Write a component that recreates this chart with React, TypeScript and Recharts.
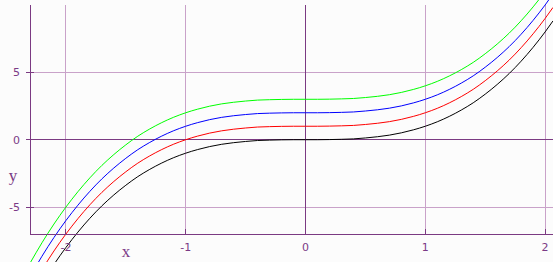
import { LineChart, Line, XAxis, YAxis, CartesianGrid, ReferenceLine, Label } from "recharts";

// x positions the curves were read at
const X_VALUES = [
  -2.3, -2.2, -2.1, -2.0, -1.9, -1.8, -1.7, -1.6, -1.5, -1.4, -1.3, -1.2, -1.1, -1.0,
  -0.9, -0.8, -0.7, -0.6, -0.5, -0.4, -0.3, -0.2, -0.1, 0, 0.1, 0.2, 0.3, 0.4, 0.5,
  0.6, 0.7, 0.8, 0.9, 1.0, 1.1, 1.2, 1.3, 1.4, 1.5, 1.6, 1.7, 1.8, 1.9, 2.0, 2.066,
];

const BLACK = [
  -12.17, -10.65, -9.26, -8.0, -6.86, -5.83, -4.91, -4.1, -3.38, -2.74, -2.2, -1.73, -1.33, -1.0,
  -0.73, -0.51, -0.34, -0.22, -0.13, -0.06, -0.03, -0.01, 0, 0, 0, 0.01, 0.03, 0.06, 0.13,
  0.22, 0.34, 0.51, 0.73, 1.0, 1.33, 1.73, 2.2, 2.74, 3.38, 4.1, 4.91, 5.83, 6.86, 8.0, 8.82,
];
const RED = [
  -11.17, -9.65, -8.26, -7.0, -5.86, -4.83, -3.91, -3.1, -2.38, -1.74, -1.2, -0.73, -0.33, 0.0,
  0.27, 0.49, 0.66, 0.78, 0.87, 0.94, 0.97, 0.99, 1, 1, 1, 1.01, 1.03, 1.06, 1.13,
  1.22, 1.34, 1.51, 1.73, 2.0, 2.33, 2.73, 3.2, 3.74, 4.38, 5.1, 5.91, 6.83, 7.86, 9.0, 9.82,
];
const BLUE = [
  -10.17, -8.65, -7.26, -6.0, -4.86, -3.83, -2.91, -2.1, -1.38, -0.74, -0.2, 0.27, 0.67, 1.0,
  1.27, 1.49, 1.66, 1.78, 1.87, 1.94, 1.97, 1.99, 2, 2, 2, 2.01, 2.03, 2.06, 2.13,
  2.22, 2.34, 2.51, 2.73, 3.0, 3.33, 3.73, 4.2, 4.74, 5.38, 6.1, 6.91, 7.83, 8.86, 10.0, 10.82,
];
const GREEN = [
  -9.17, -7.65, -6.26, -5.0, -3.86, -2.83, -1.91, -1.1, -0.38, 0.26, 0.8, 1.27, 1.67, 2.0,
  2.27, 2.49, 2.66, 2.78, 2.87, 2.94, 2.97, 2.99, 3, 3, 3, 3.01, 3.03, 3.06, 3.13,
  3.22, 3.34, 3.51, 3.73, 4.0, 4.33, 4.73, 5.2, 5.74, 6.38, 7.1, 7.91, 8.83, 9.86, 11.0, 11.82,
];

const X_TICKS = [-2, -1, 0, 1, 2];
const Y_TICKS = [-5, 0, 5];

const SERIES = [
  { key: "black", color: "#000000" },
  { key: "red", color: "#ff0000" },
  { key: "blue", color: "#0000ff" },
  { key: "green", color: "#00ff00" },
];

const data = X_VALUES.map((x, i) => ({
  x,
  black: BLACK[i],
  red: RED[i],
  blue: BLUE[i],
  green: GREEN[i],
}));

const AXIS = "#7b3a82";
const GRID = "#c9a2c9";
const TEXT = "#7b3a86";

function YTick(props: any) {
  const { x, y, payload } = props;
  return (
    <g>
      <line x1={x - 4} x2={x + 4} y1={y} y2={y} stroke={AXIS} shapeRendering="crispEdges" />
      <text x={x - 10} y={y + 4} textAnchor="end" fontSize={11} fill={TEXT} fontFamily="DejaVu Sans">
        {payload.value}
      </text>
    </g>
  );
}

function XTick(props: any) {
  const { x, y, payload } = props;
  return (
    <g>
      <line x1={x} x2={x} y1={y - 5} y2={y} stroke={AXIS} shapeRendering="crispEdges" />
      <text x={x} y={y + 17} textAnchor="middle" fontSize={11} fill={TEXT} fontFamily="DejaVu Sans">
        {payload.value}
      </text>
    </g>
  );
}

export default function App() {
  return (
    <div style={{ position: "absolute", left: 0, top: 0, width: 553, height: 262, background: "#fcfcfc" }}>
      {/* curves run past the frame in the original, so drop the plot clip */}
      <style>{`.recharts-wrapper g, .recharts-wrapper path { clip-path: none !important; }
.recharts-cartesian-grid line, .recharts-reference-line line, .recharts-cartesian-axis-line { shape-rendering: crispEdges; }`}</style>
      <LineChart width={553} height={262} data={data} margin={{ top: 5, right: 0, bottom: 0, left: 0 }}>
        <CartesianGrid
          stroke={GRID}
          strokeWidth={1}
          horizontalValues={Y_TICKS}
          verticalValues={X_TICKS}
        />
        <XAxis
          dataKey="x"
          type="number"
          domain={[-2.3, 2.066]}
          allowDataOverflow
          ticks={X_TICKS}
          height={28}
          tickSize={0}
          tickMargin={0}
          tick={<XTick />}
          axisLine={{ stroke: AXIS }}
          tickLine={false}
        >
          <Label
            content={(p: any) => (
              <text x={p.viewBox.x + 96} y={p.viewBox.y + 23} textAnchor="middle" fontSize={17} fill={TEXT} fontFamily="Liberation Serif">
                x
              </text>
            )}
          />
        </XAxis>
        <YAxis
          type="number"
          domain={[-7, 10]}
          allowDataOverflow
          ticks={Y_TICKS}
          width={30}
          tickSize={0}
          tickMargin={0}
          tick={<YTick />}
          axisLine={{ stroke: AXIS }}
          tickLine={false}
        >
          <Label
            content={(p: any) => (
              <text x={13} y={p.viewBox.y + 176} textAnchor="middle" fontSize={17} fill={TEXT} fontFamily="Liberation Serif">
                y
              </text>
            )}
          />
        </YAxis>
        <ReferenceLine x={0} stroke={AXIS} />
        <ReferenceLine y={0} stroke={AXIS} />
        {SERIES.map((s) => (
          <Line
            key={s.key}
            type="monotone"
            dataKey={s.key}
            stroke={s.color}
            strokeWidth={1}
            dot={false}
            activeDot={false}
            isAnimationActive={false}
          />
        ))}
      </LineChart>
    </div>
  );
}
